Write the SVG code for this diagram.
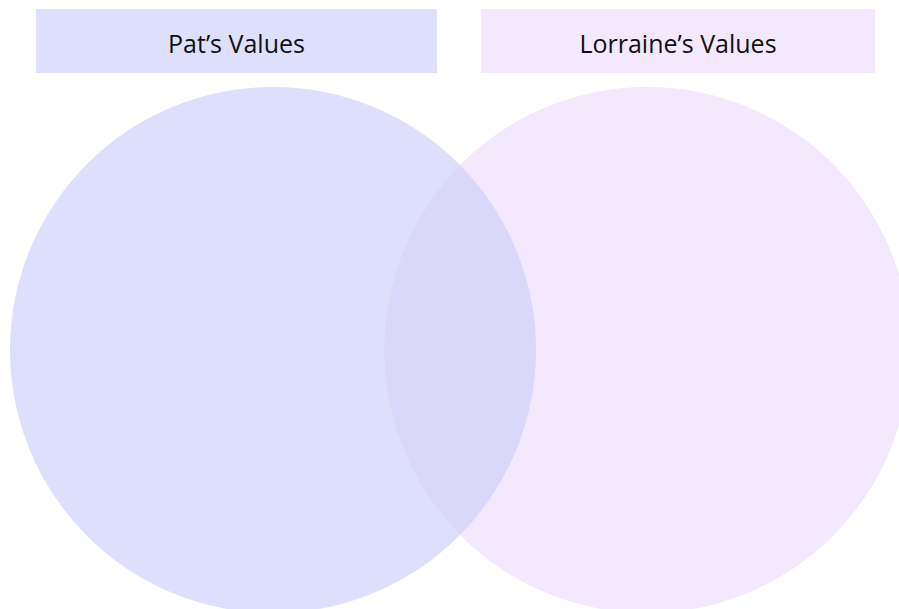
<svg xmlns="http://www.w3.org/2000/svg" width="899" height="609" viewBox="0 0 899 609">
<style>
.lbl{font-family:"Open Sans","Noto Sans",sans-serif;font-size:25px;fill:#111;text-anchor:middle}
</style>
<defs>
<clipPath id="clipL"><circle cx="273" cy="350" r="263"/></clipPath>
</defs>
<rect width="899" height="609" fill="#ffffff"/>
<g id="circle-pat"><circle cx="273" cy="350" r="263" fill="#dedefd"/></g>
<g id="circle-lorraine"><circle cx="647" cy="350" r="263" fill="#f3e8fd"/></g>
<g id="overlap"><circle cx="647" cy="350" r="263" fill="#d9d8fb" clip-path="url(#clipL)"/></g>
<g id="header-pat">
<rect x="36" y="9" width="401" height="64" fill="#dedefd"/>
<text class="lbl" x="236.5" y="53">Pat’s Values</text>
</g>
<g id="header-lorraine">
<rect x="481" y="9" width="394" height="64" fill="#f3e8fd"/>
<text class="lbl" x="678" y="53">Lorraine’s Values</text>
</g>
<g id="connectors"></g>
</svg>
